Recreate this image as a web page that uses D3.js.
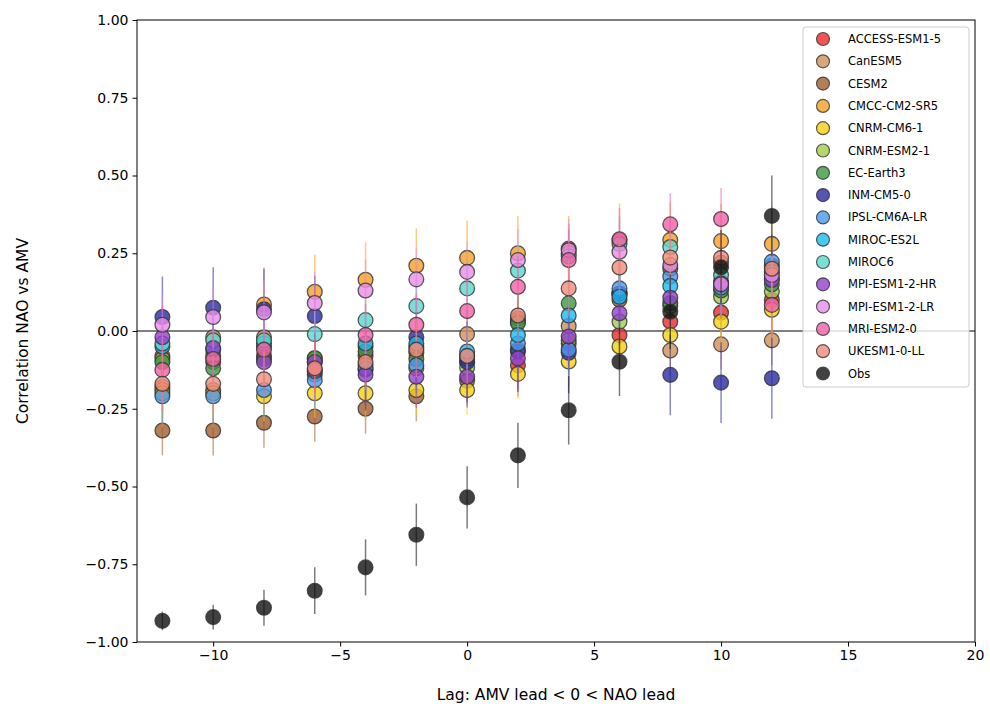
<!DOCTYPE html>
<html><head><meta charset="utf-8">
<script src="https://cdn.jsdelivr.net/npm/d3@7"></script>
<style>body{margin:0;background:#fff}svg{font-family:"DejaVu Sans",sans-serif}</style>
</head><body><svg id="c" width="990" height="716"></svg>
<script>
const lags = [-12,-10,-8,-6,-4,-2,0,2,4,6,8,10,12];
const xTicks = [-10,-5,0,5,10,15,20];
const yTicks = [-1,-0.75,-0.5,-0.25,0,0.25,0.5,0.75,1];
const modelNames = ["ACCESS-ESM1-5","CanESM5","CESM2","CMCC-CM2-SR5","CNRM-CM6-1","CNRM-ESM2-1","EC-Earth3","INM-CM5-0","IPSL-CM6A-LR","MIROC-ES2L","MIROC6","MPI-ESM1-2-HR","MPI-ESM1-2-LR","MRI-ESM2-0","UKESM1-0-LL","Obs"];
const colors = ["#f02828","#d09058","#a05e30","#f5a020","#f5d010","#a0cc48","#3a983e","#2a2aa0","#4898f0","#18bcf0","#58d8cc","#9440cc","#e88ce8","#f060a8","#f08c7c","#111111"];
const accessEsm = [-0.08,-0.10,-0.08,-0.10,-0.08,-0.07,-0.10,-0.11,-0.04,-0.013,0.03,0.059,0.10];
const canEsm5   = [-0.18,-0.02,-0.02,-0.14,-0.05,-0.05,-0.01,0.03,0.016,0.12,-0.063,-0.043,-0.03];
const cesm2     = [-0.32,-0.32,-0.295,-0.275,-0.25,-0.21,-0.16,0.04,0.265,0.10,0.20,0.22,0.21];
const cmcc      = [-0.19,-0.19,0.085,0.126,0.165,0.21,0.235,0.25,0.25,0.29,0.293,0.289,0.28];
const cnrmCm6   = [-0.20,-0.20,-0.21,-0.20,-0.20,-0.19,-0.19,-0.138,-0.098,-0.05,-0.013,0.03,0.068];
const cnrmEsm2  = [-0.09,-0.08,-0.05,-0.09,-0.11,-0.12,-0.117,-0.06,-0.03,0.03,0.08,0.11,0.127];
const ecEarth3  = [-0.10,-0.12,-0.09,-0.087,-0.066,-0.09,-0.09,0.025,0.089,0.12,0.09,0.13,0.15];
const inmCm5    = [0.045,0.075,0.07,0.048,-0.125,-0.02,-0.10,-0.066,-0.07,0.12,-0.141,-0.166,-0.152];
const ipslCm6a  = [-0.21,-0.21,-0.19,-0.158,-0.12,-0.11,-0.08,-0.04,-0.06,0.137,0.175,0.14,0.223];
const mirocEs2l = [-0.05,-0.06,-0.04,-0.13,-0.04,-0.04,-0.066,-0.013,0.05,0.11,0.145,0.16,0.19];
const miroc6    = [-0.04,-0.03,-0.03,-0.01,0.035,0.08,0.137,0.194,0.24,0.28,0.27,0.18,0.17];
const mpiHr     = [-0.02,-0.055,-0.10,-0.10,-0.14,-0.147,-0.147,-0.088,-0.018,0.057,0.107,0.153,0.164];
const mpiLr     = [0.02,0.045,0.06,0.09,0.13,0.166,0.19,0.228,0.26,0.255,0.212,0.15,0.18];
const mriEsm2   = [-0.125,-0.09,-0.06,-0.125,-0.013,0.02,0.064,0.142,0.228,0.295,0.343,0.36,0.084];
const ukesm1    = [-0.17,-0.17,-0.155,-0.12,-0.10,-0.06,-0.08,0.05,0.137,0.204,0.236,0.235,0.20];
const obs       = [-0.932,-0.92,-0.89,-0.835,-0.76,-0.655,-0.535,-0.40,-0.255,-0.099,0.062,0.205,0.37];
const modelErr  = [0.10,0.08,0.08,0.12,0.08,0.09,0.09,0.13,0.09,0.09,0.09,0.10,0.10,0.10,0.09];
const obsErr    = [0.03,0.04,0.058,0.075,0.09,0.10,0.10,0.105,0.11,0.11,0.12,0.12,0.13];

const seriesVals = [accessEsm,canEsm5,cesm2,cmcc,cnrmCm6,cnrmEsm2,ecEarth3,inmCm5,ipslCm6a,mirocEs2l,miroc6,mpiHr,mpiLr,mriEsm2,ukesm1,obs];
const series = seriesVals.map((v,i)=>({name:modelNames[i],color:colors[i],vals:v,err:i<15?lags.map(()=>modelErr[i]):obsErr}));

const svg = d3.select("#c");
const L=137,R=975,T=20,B=642;
const x = d3.scaleLinear().domain([-13,20]).range([L,R]);
const y = d3.scaleLinear().domain([-1,1]).range([B,T]);
const fmtY = d=>d3.format(".2f")(d).replace("-","\u2212");
const fmtX = d=>String(d).replace("-","\u2212");

svg.append("line").attr("x1",L).attr("x2",R).attr("y1",y(0)).attr("y2",y(0)).attr("stroke","#000").attr("stroke-width",1);

series.forEach(s=>{
  const g = svg.append("g");
  lags.forEach((lag,j)=>{
    g.append("line").attr("x1",x(lag)).attr("x2",x(lag))
      .attr("y1",y(s.vals[j]-s.err[j])).attr("y2",y(s.vals[j]+s.err[j]))
      .attr("stroke",s.color).attr("stroke-opacity",0.55).attr("stroke-width",1.5);
  });
  lags.forEach((lag,j)=>{
    g.append("circle").attr("cx",x(lag)).attr("cy",y(s.vals[j])).attr("r",7.4)
      .attr("fill",s.color).attr("fill-opacity",0.8)
      .attr("stroke","#333").attr("stroke-opacity",0.8).attr("stroke-width",1.3);
  });
});

const xa = svg.append("g").attr("transform",`translate(0,${B})`).call(d3.axisBottom(x).tickValues(xTicks).tickFormat(fmtX).tickSize(4.5).tickPadding(4));
const ya = svg.append("g").attr("transform",`translate(${L},0)`).call(d3.axisLeft(y).tickValues(yTicks).tickFormat(fmtY).tickSize(4.5).tickPadding(4));
[xa,ya].forEach(a=>{a.selectAll("text").attr("font-size",14).attr("fill","#000").attr("font-family","DejaVu Sans");a.selectAll("line").attr("stroke","#000");a.select(".domain").remove();});
svg.append("rect").attr("x",L).attr("y",T).attr("width",R-L).attr("height",B-T).attr("fill","none").attr("stroke","#000").attr("stroke-width",1);

svg.append("text").attr("x",(L+R)/2).attr("y",700).attr("text-anchor","middle").attr("font-size",15.5).text("Lag: AMV lead < 0 < NAO lead");
svg.append("text").attr("transform",`translate(28,${(T+B)/2}) rotate(-90)`).attr("text-anchor","middle").attr("font-size",15.5).text("Correlation NAO vs AMV");

const lg = svg.append("g");
lg.append("rect").attr("x",803).attr("y",27).attr("width",166).attr("height",360).attr("rx",3)
  .attr("fill","#fff").attr("fill-opacity",0.8).attr("stroke","#ccc");
series.forEach((s,i)=>{
  const yy = 39 + i*22.3;
  lg.append("circle").attr("cx",823).attr("cy",yy).attr("r",6.5).attr("fill",s.color).attr("fill-opacity",0.8)
    .attr("stroke","#333").attr("stroke-opacity",0.8).attr("stroke-width",1.2);
  lg.append("text").attr("x",848).attr("y",yy+4).attr("font-size",11.5).text(s.name);
});
</script></body></html>
